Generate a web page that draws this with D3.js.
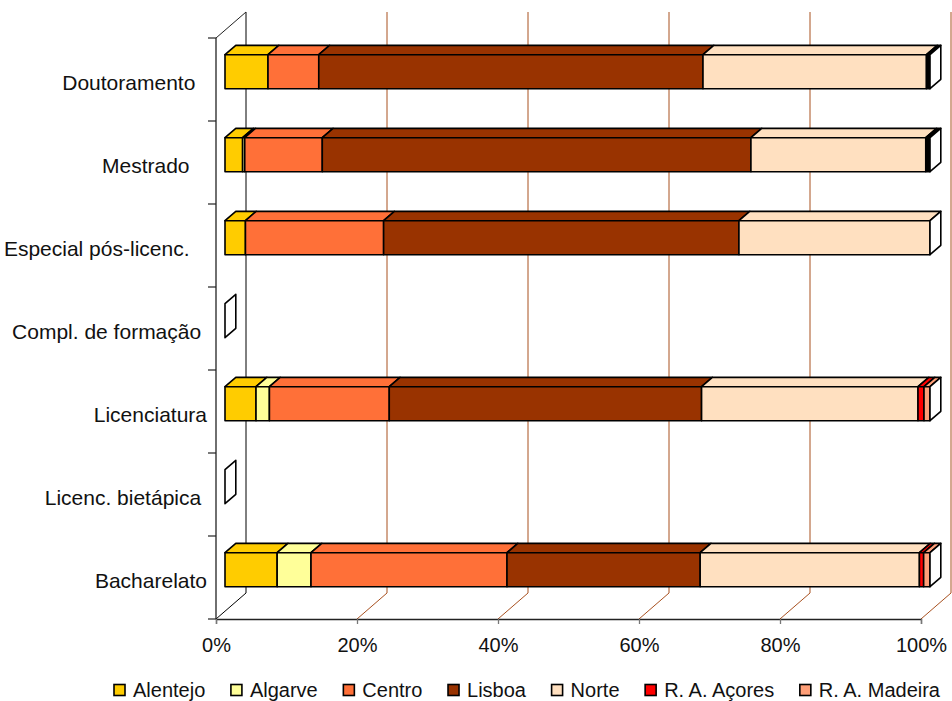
<!DOCTYPE html>
<html>
<head>
<meta charset="utf-8">
<script src="https://cdn.jsdelivr.net/npm/d3@7"></script>
<style>
  html, body { margin: 0; padding: 0; background: #fff; }
  svg { display: block; font-family: Arial, "Liberation Sans", sans-serif; }
  text { white-space: pre; }
</style>
</head>
<body>
<svg id="chart" width="952" height="701"></svg>
<script>
// Categories, top to bottom
const categories = [
  "Doutoramento",
  "Mestrado",
  "Especial pós-licenc.",
  "Compl. de formação",
  "Licenciatura",
  "Licenc. bietápica",
  "Bacharelato"
];

// Share of each region per category (%)
const alentejo = [6.1, 2.5, 2.9, 0, 4.4, 0, 7.4];
const algarve  = [0,   0.3, 0,   0, 1.9, 0, 4.8];
const centro   = [7.2, 11.0, 19.6, 0, 17.0, 0, 27.8];
const lisboa   = [54.5, 60.8, 50.4, 0, 44.3, 0, 27.4];
const norte    = [31.7, 24.8, 27.1, 0, 30.7, 0, 31.1];
const acores   = [0,   0,   0,   0, 0.85, 0, 0.6];
const madeira  = [0,   0,   0,   0, 0.85, 0, 0.9];
const outros   = [0.5, 0.6, 0,   0, 0,    0, 0];

const seriesNames  = ["Alentejo", "Algarve", "Centro", "Lisboa", "Norte", "R. A. Açores", "R. A. Madeira", "Outros"];
const seriesValues = [alentejo, algarve, centro, lisboa, norte, acores, madeira, outros];
const seriesColors = ["#FFCC00", "#FFFF99", "#FF7038", "#993300", "#FFE0C0", "#FF0000", "#FF9F78", "#000000"];
const legendCount = 7;

const tickValues = [0, 20, 40, 60, 80, 100];
const tickLabels = ["0%", "20%", "40%", "60%", "80%", "100%"];

// Trailing padding of each category label (spaces)
const labelPad = [2, 3, 3, 1, 0, 1, 0];

const svg = d3.select("#chart");

// Plot geometry: front plane, plus depth vector for the 3D box
const plotLeft = 216, plotRight = 921, plotTop = 38, plotBottom = 619;
const depthX = 30, depthY = -26;
const barFront = 0.3, barBack = 0.66;

const x = d3.scaleLinear().domain([0, 100]).range([plotLeft, plotRight]);
const y = d3.scaleBand().domain(categories).range([plotTop, plotBottom])
  .paddingInner(0.59).paddingOuter(0.295);

const P = (px, py, d) => [px + d * depthX, py + d * depthY];
const poly = pts => "M" + pts.map(p => p.join(",")).join("L") + "Z";

const gridColor = "#A8501F";

// Back wall gridlines and floor diagonals
const grid = svg.append("g");
tickValues.forEach(v => {
  const c = v === 0 ? "#000" : gridColor;
  const b0 = P(x(v), plotTop, 1), b1 = P(x(v), plotBottom, 1);
  const f0 = P(x(v), plotBottom, 0);
  grid.append("line").attr("x1", b0[0]).attr("y1", b0[1])
    .attr("x2", b1[0]).attr("y2", b1[1]).attr("stroke", c).attr("stroke-width", 1);
  grid.append("line").attr("x1", b1[0]).attr("y1", b1[1])
    .attr("x2", f0[0]).attr("y2", f0[1]).attr("stroke", c).attr("stroke-width", 1);
});

// Left wall edges: front axis line and top diagonal
const axisG = svg.append("g");
axisG.append("line").attr("x1", plotLeft).attr("y1", plotTop).attr("x2", plotLeft).attr("y2", plotBottom)
  .attr("stroke", "#222").attr("stroke-width", 1.3);
const tl = P(plotLeft, plotTop, 1);
axisG.append("line").attr("x1", plotLeft).attr("y1", plotTop).attr("x2", tl[0]).attr("y2", tl[1])
  .attr("stroke", "#222").attr("stroke-width", 1);

// Category axis ticks at band boundaries
const step = y.step();
d3.range(categories.length + 1).forEach(i => {
  const yy = plotTop + i * step;
  axisG.append("line").attr("x1", plotLeft - 8).attr("y1", yy).attr("x2", plotLeft).attr("y2", yy)
    .attr("stroke", "#222").attr("stroke-width", 1.2);
});

// Value axis along the front floor edge
const xAxis = d3.axisBottom(x).tickValues(tickValues)
  .tickFormat((d, i) => tickLabels[i]).tickSize(5).tickPadding(14);
const xg = svg.append("g").attr("transform", `translate(0,${plotBottom})`).call(xAxis);
xg.select(".domain").attr("stroke", "#222").attr("stroke-width", 1.3);
xg.selectAll(".tick line").attr("stroke", "#777").attr("stroke-width", 1.3);
xg.selectAll(".tick text").attr("font-size", 20).attr("fill", "#111")
  .attr("font-family", "Arial, 'Liberation Sans', sans-serif");

// Category labels
svg.append("g").selectAll("text").data(categories).join("text")
  .attr("x", 207)
  .attr("y", d => y(d) + y.bandwidth() / 2 + 3)
  .attr("text-anchor", "end")
  .attr("dominant-baseline", "central")
  .attr("font-size", 21)
  .attr("fill", "#111")
  .text((d, i) => d + " ".repeat(labelPad[i]));

// Stacked 3D bars
const bars = svg.append("g");
categories.forEach((cat, ci) => {
  const yt = y(cat), yb = y(cat) + y.bandwidth();
  let acc = 0;
  seriesValues.forEach((vals, si) => {
    const v = vals[ci];
    if (!(v > 0)) return;
    const x0 = x(acc), x1 = x(acc + v);
    acc += v;
    const fill = seriesColors[si];
    // top face
    bars.append("path")
      .attr("d", poly([P(x0, yt, barFront), P(x1, yt, barFront), P(x1, yt, barBack), P(x0, yt, barBack)]))
      .attr("fill", fill).attr("stroke", "#000").attr("stroke-width", 1.6).attr("stroke-linejoin", "round");
    // front face
    bars.append("path")
      .attr("d", poly([P(x0, yt, barFront), P(x1, yt, barFront), P(x1, yb, barFront), P(x0, yb, barFront)]))
      .attr("fill", fill).attr("stroke", "#000").attr("stroke-width", 1.6).attr("stroke-linejoin", "round");
  });
  // end face of the stack
  const xe = x(acc);
  bars.append("path")
    .attr("d", poly([P(xe, yt, barFront), P(xe, yt, barBack), P(xe, yb, barBack), P(xe, yb, barFront)]))
    .attr("fill", "#fff").attr("stroke", "#000").attr("stroke-width", 1.6).attr("stroke-linejoin", "round");
});

// Legend, spread across the width under the plot
const legendLeft = 114, legendRight = 940, legendY = 690;
const legend = svg.append("g");
const items = [];
let used = 0;
for (let i = 0; i < legendCount; i++) {
  const g = legend.append("g");
  g.append("rect").attr("x", 0).attr("y", -5.5).attr("width", 11).attr("height", 11)
    .attr("fill", seriesColors[i]).attr("stroke", "#000").attr("stroke-width", 1.6);
  const t = g.append("text").attr("x", 19).attr("y", 0).attr("dominant-baseline", "central")
    .attr("font-size", 20).attr("fill", "#111").text(seriesNames[i]);
  const w = 19 + t.node().getComputedTextLength();
  items.push({ g, w });
  used += w;
}
const gap = (legendRight - legendLeft - used) / (legendCount - 1);
let lx = legendLeft;
items.forEach(it => { it.g.attr("transform", `translate(${lx},${legendY})`); lx += it.w + gap; });
</script>
</body>
</html>
